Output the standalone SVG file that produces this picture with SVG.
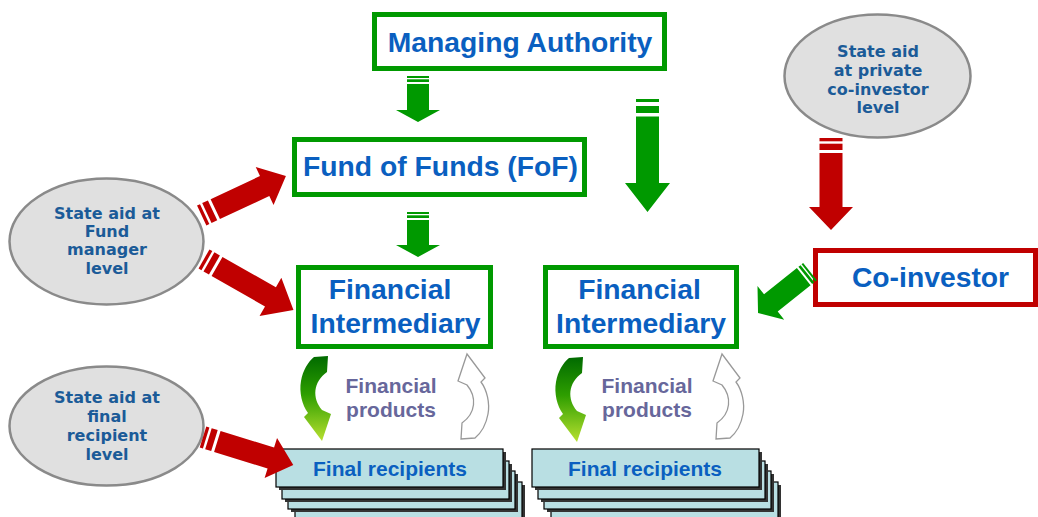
<svg xmlns="http://www.w3.org/2000/svg" width="1038" height="517" viewBox="0 0 1038 517">
<defs>
<style>
.gbox{fill:#fff;stroke:#009900;stroke-width:5}
.rbox{fill:#fff;stroke:#c00000;stroke-width:5}
.bt{font-family:"Liberation Sans",Arial,sans-serif;font-weight:bold;font-size:28.3px;fill:#0a5fc0;text-anchor:middle}
.ell{fill:#e0e0e0;stroke:#8a8a8a;stroke-width:2.5}
.et{font-family:"DejaVu Sans",Verdana,sans-serif;font-weight:bold;font-size:16px;fill:#1b5b98;text-anchor:middle}
.fr{fill:#b9dfe3;stroke:#000;stroke-width:1.2}
.sh{fill:#333}
.frt{font-family:"Liberation Sans",Arial,sans-serif;font-weight:bold;font-size:21px;fill:#0a5fc0;text-anchor:middle}
.fp{font-family:"Liberation Sans",Arial,sans-serif;font-weight:bold;font-size:21px;fill:#67679b;text-anchor:middle}
.ga{fill:#009900}
.ra{fill:#c00000}
.gray{fill:#fff;stroke:#999;stroke-width:1.3}
</style>
<linearGradient id="cg" x1="0" y1="0" x2="0" y2="1">
<stop offset="0" stop-color="#006a00"/>
<stop offset="0.45" stop-color="#2e9e00"/>
<stop offset="1" stop-color="#b8e030"/>
</linearGradient>
<path id="curv" d="M314,357 L328,356 L327,372 C313,382 312,398 322,410 L331,414 L322,441 L304,417 L308,413 C302,405 299,392 301,381 C303,370 308,362 314,357 Z"/>
</defs>

<g id="ellipse-fund-manager">
<ellipse class="ell" cx="106.5" cy="241.5" rx="97" ry="63"/>
<text class="et" x="107" y="219">State aid at</text>
<text class="et" x="107" y="237">Fund</text>
<text class="et" x="107" y="255">manager</text>
<text class="et" x="107" y="274">level</text>
</g>

<g id="ellipse-final-recipient">
<ellipse class="ell" cx="106.5" cy="426" rx="97" ry="59.5"/>
<text class="et" x="107" y="403">State aid at</text>
<text class="et" x="107" y="422">final</text>
<text class="et" x="107" y="441">recipient</text>
<text class="et" x="107" y="460">level</text>
</g>

<g id="ellipse-co-investor">
<ellipse class="ell" cx="877.5" cy="76" rx="93" ry="61.5"/>
<text class="et" x="878" y="57">State aid</text>
<text class="et" x="878" y="76">at private</text>
<text class="et" x="878" y="95">co-investor</text>
<text class="et" x="878" y="113">level</text>
</g>

<g id="managing-authority">
<rect class="gbox" x="374.5" y="14.5" width="290" height="54"/>
<text class="bt" x="520" y="52">Managing Authority</text>
</g>

<g id="fund-of-funds">
<rect class="gbox" x="294.5" y="139.5" width="290" height="55"/>
<text class="bt" x="440.5" y="176">Fund of Funds (FoF)</text>
</g>

<g id="fi-left">
<rect class="gbox" x="298.5" y="267.5" width="192" height="79"/>
<text class="bt" x="390" y="299">Financial</text>
<text class="bt" x="395.5" y="333">Intermediary</text>
</g>

<g id="fi-right">
<rect class="gbox" x="545.5" y="267.5" width="191" height="79"/>
<text class="bt" x="639.5" y="299">Financial</text>
<text class="bt" x="641" y="333">Intermediary</text>
</g>

<g id="co-investor">
<rect class="rbox" x="815.5" y="250.5" width="220" height="54"/>
<text class="bt" x="930.5" y="287">Co-investor</text>
</g>

<g id="final-recipients-left">
<rect class="sh" x="298" y="485" width="227" height="38"/>
<rect class="fr" x="295" y="482" width="227" height="38"/>
<rect class="sh" x="291" y="474" width="227" height="38"/>
<rect class="fr" x="288" y="471" width="227" height="38"/>
<rect class="sh" x="285" y="464" width="227" height="38"/>
<rect class="fr" x="282" y="461" width="227" height="38"/>
<rect class="sh" x="279" y="452" width="227" height="38"/>
<rect class="fr" x="276" y="449" width="227" height="38"/>
<text class="frt" x="390" y="476">Final recipients</text>
</g>

<g id="final-recipients-right">
<rect class="sh" x="554" y="485" width="227" height="38"/>
<rect class="fr" x="551" y="482" width="227" height="38"/>
<rect class="sh" x="547" y="474" width="227" height="38"/>
<rect class="fr" x="544" y="471" width="227" height="38"/>
<rect class="sh" x="541" y="464" width="227" height="38"/>
<rect class="fr" x="538" y="461" width="227" height="38"/>
<rect class="sh" x="535" y="452" width="227" height="38"/>
<rect class="fr" x="532" y="449" width="227" height="38"/>
<text class="frt" x="645" y="476">Final recipients</text>
</g>

<g id="financial-products-left">
<text class="fp" x="391" y="393">Financial</text>
<text class="fp" x="391" y="417">products</text>
</g>

<g id="financial-products-right">
<text class="fp" x="647" y="393">Financial</text>
<text class="fp" x="647" y="417">products</text>
</g>

<g id="connectors">
<g class="ga" transform="translate(418,76) rotate(90)">
<rect x="0" y="-11" width="2" height="22"/><rect x="3.3" y="-11" width="2.7" height="22"/>
<polygon points="8,-11 34,-11 34,-22 46,0 34,22 34,11 8,11"/>
</g>
<g class="ga" transform="translate(418,212) rotate(90)">
<rect x="0" y="-11" width="2" height="22"/><rect x="3.3" y="-11" width="2.7" height="22"/>
<polygon points="8,-11 33,-11 33,-22 45,0 33,22 33,11 8,11"/>
</g>
<g class="ga" transform="translate(647.5,99) rotate(90)">
<rect x="0" y="-11.5" width="3" height="23"/><rect x="7" y="-11.5" width="7" height="23"/>
<polygon points="17.5,-11.5 84,-11.5 84,-22.5 113,0 84,22.5 84,11.5 17.5,11.5"/>
</g>
<g class="ra" transform="translate(831,138) rotate(90)">
<rect x="0" y="-11.5" width="3.3" height="23"/><rect x="5.7" y="-11.5" width="6.3" height="23"/>
<polygon points="15,-11.5 69,-11.5 69,-22 92,0 69,22 69,11.5 15,11.5"/>
</g>
<g class="ra" transform="translate(201.7,215.5) rotate(-25.1)">
<rect x="0" y="-11" width="3.3" height="22"/><rect x="5.7" y="-11" width="6.3" height="22"/>
<polygon points="15,-11 69.5,-11 69.5,-21 93,0 69.5,21 69.5,11 15,11"/>
</g>
<g class="ra" transform="translate(204,259) rotate(29.7)">
<rect x="0" y="-11" width="3.3" height="22"/><rect x="5.7" y="-11" width="6.3" height="22"/>
<polygon points="15,-11 76.5,-11 76.5,-22 103,0 76.5,22 76.5,11 15,11"/>
</g>
<g class="ra" transform="translate(203,437) rotate(17.2)">
<rect x="0" y="-11" width="3.3" height="22"/><rect x="5.7" y="-11" width="6.3" height="22"/>
<polygon points="15,-11 71,-11 71,-21 94.5,0 71,21 71,11 15,11"/>
</g>
<g class="ga" transform="translate(810,271.7) rotate(141.5)">
<rect x="0" y="-11" width="2" height="22"/><rect x="3.3" y="-11" width="2.7" height="22"/>
<polygon points="8,-11 50,-11 50,-21.5 66.4,0 50,21.5 50,11 8,11"/>
</g>
<use href="#curv" fill="url(#cg)"/>
<use href="#curv" fill="url(#cg)" transform="translate(255,1)"/>
<use href="#curv" class="gray" transform="translate(474,396.5) rotate(180) translate(-315,-398.5)"/>
<use href="#curv" class="gray" transform="translate(729,396.5) rotate(180) translate(-315,-398.5)"/>
</g>
</svg>
